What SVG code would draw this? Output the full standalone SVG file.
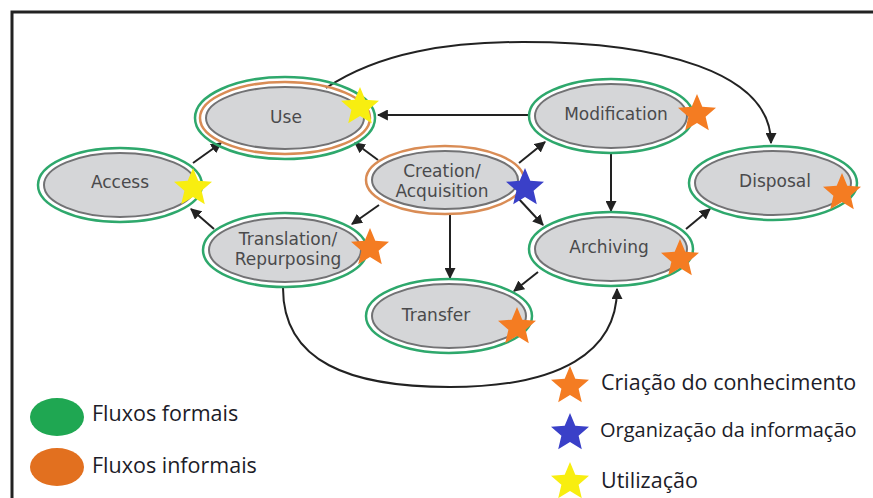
<svg xmlns="http://www.w3.org/2000/svg" xmlns:xlink="http://www.w3.org/1999/xlink" width="873" height="498" viewBox="0 0 873 498">
<defs>
<style>
.g{fill:none;stroke:#2ea86c;stroke-width:2.5}
.o{fill:none;stroke:#d98c55;stroke-width:2.5}
.in{fill:#d5d6d8;stroke:#727274;stroke-width:2}
.lbl{font-family:"DejaVu Sans",sans-serif;font-size:17px;fill:#4a4a4c;text-anchor:middle}
.leg{font-family:"Open Sans",sans-serif;font-size:21.5px;fill:#1c1c28}
.c{fill:none;stroke:#222;stroke-width:2}
</style>
<marker id="ah" viewBox="0 0 10 10" refX="9" refY="5" markerWidth="5.5" markerHeight="5.5" orient="auto" markerUnits="strokeWidth">
<path d="M0,0 L10,5 L0,10 Z" fill="#222"/>
</marker>
<path id="star" d="M0,-20 L5.3,-7.3 L19,-6.2 L8.6,2.8 L11.8,16.2 L0,9 L-11.8,16.2 L-8.6,2.8 L-19,-6.2 L-5.3,-7.3 Z"/>
</defs>
<rect width="873" height="498" fill="#fff"/>
<path d="M12,498 L12,12 L873,12" fill="none" stroke="#222" stroke-width="3"/>

<g id="connectors">
<path class="c" d="M326,88 C380,52 450,42 523,42 C660,42 771,72 771,143" marker-end="url(#ah)"/>
<path class="c" d="M528,115 L378,115" marker-end="url(#ah)"/>
<path class="c" d="M378,160 L355,143" marker-end="url(#ah)"/>
<path class="c" d="M193,163 L221,143" marker-end="url(#ah)"/>
<path class="c" d="M214,229 L191,209" marker-end="url(#ah)"/>
<path class="c" d="M379,205 L352,224" marker-end="url(#ah)"/>
<path class="c" d="M519,163 L545,142" marker-end="url(#ah)"/>
<path class="c" d="M518,198 L543,225" marker-end="url(#ah)"/>
<path class="c" d="M450,213 L450,278" marker-end="url(#ah)"/>
<path class="c" d="M611,153 L611,211" marker-end="url(#ah)"/>
<path class="c" d="M686,229 L710,209" marker-end="url(#ah)"/>
<path class="c" d="M538,272 L514,291" marker-end="url(#ah)"/>
<path class="c" d="M283,288 C283,362 350,387 450,387 C560,387 617,352 617,289" marker-end="url(#ah)"/>
</g>

<g id="use">
<ellipse class="g" cx="285" cy="118" rx="90" ry="41"/>
<ellipse class="o" cx="285" cy="118" rx="85" ry="36"/>
<ellipse class="in" cx="285" cy="118" rx="79" ry="31"/>
<text class="lbl" x="286" y="123">Use</text>
</g>
<g id="access">
<ellipse class="g" cx="120" cy="185" rx="82" ry="37"/>
<ellipse class="in" cx="120" cy="185" rx="76" ry="32"/>
<text class="lbl" x="120" y="188">Access</text>
</g>
<g id="creation">
<ellipse class="o" cx="445" cy="180" rx="79" ry="34"/>
<ellipse class="in" cx="445" cy="180" rx="73" ry="29"/>
<text class="lbl" x="442" y="177">Creation/</text>
<text class="lbl" x="442" y="197">Acquisition</text>
</g>
<g id="modification">
<ellipse class="g" cx="611" cy="116" rx="82" ry="37"/>
<ellipse class="in" cx="611" cy="116" rx="76" ry="32"/>
<text class="lbl" x="616" y="120">Modification</text>
</g>
<g id="disposal">
<ellipse class="g" cx="773" cy="183" rx="84" ry="37"/>
<ellipse class="in" cx="773" cy="183" rx="78" ry="32"/>
<text class="lbl" x="775" y="187">Disposal</text>
</g>
<g id="archiving">
<ellipse class="g" cx="611" cy="249" rx="82" ry="37"/>
<ellipse class="in" cx="611" cy="249" rx="76" ry="32"/>
<text class="lbl" x="609" y="253">Archiving</text>
</g>
<g id="translation">
<ellipse class="g" cx="285" cy="250" rx="82" ry="37"/>
<ellipse class="in" cx="285" cy="250" rx="76" ry="32"/>
<text class="lbl" x="288" y="245">Translation/</text>
<text class="lbl" x="288" y="265">Repurposing</text>
</g>
<g id="transfer">
<ellipse class="g" cx="449" cy="316" rx="83" ry="37"/>
<ellipse class="in" cx="449" cy="316" rx="77" ry="32"/>
<text class="lbl" x="436" y="321">Transfer</text>
</g>

<g id="stars">
<use href="#star" x="360" y="107" fill="#f8ee10"/>
<use href="#star" x="193" y="188" fill="#f8ee10"/>
<use href="#star" x="525" y="188" fill="#3a40c8"/>
<use href="#star" x="697" y="114" fill="#f47c22"/>
<use href="#star" x="842" y="193" fill="#f47c22"/>
<use href="#star" x="680" y="259" fill="#f47c22"/>
<use href="#star" x="370" y="248" fill="#f47c22"/>
<use href="#star" x="517" y="327" fill="#f47c22"/>
</g>

<g id="legend">
<ellipse cx="57" cy="417" rx="27" ry="19" fill="#1fa752"/>
<text class="leg" x="92" y="421">Fluxos formais</text>
<ellipse cx="57" cy="467" rx="27" ry="19" fill="#e2701f"/>
<text class="leg" x="92" y="473">Fluxos informais</text>
<use href="#star" x="570" y="386" fill="#f47c22"/>
<text class="leg" x="601" y="390">Criação do conhecimento</text>
<use href="#star" x="570" y="433" fill="#3a40c8"/>
<text class="leg" x="600" y="437" style="font-size:20px">Organização da informação</text>
<use href="#star" x="570" y="482" fill="#f8ee10"/>
<text class="leg" x="601" y="488">Utilização</text>
</g>
</svg>
